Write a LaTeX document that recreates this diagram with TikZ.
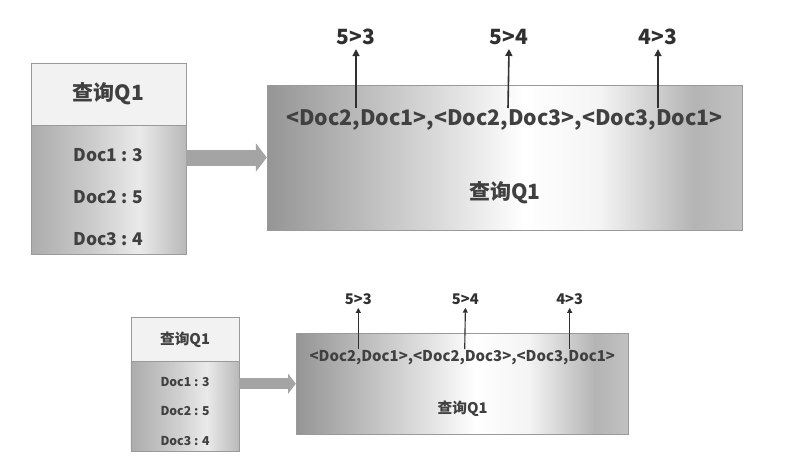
\documentclass[tikz,border=0pt]{standalone}
\usepackage{fontspec}
\setmainfont{Noto Sans CJK SC}
\usetikzlibrary{arrows.meta}
\definecolor{txtc}{HTML}{404040}
\definecolor{lblc}{HTML}{303030}
\definecolor{boxline}{HTML}{9A9A9A}
\definecolor{headfill}{HTML}{F2F2F2}
\definecolor{arrowc}{HTML}{A4A4A4}
\definecolor{lb0}{HTML}{858585}
\definecolor{lb1}{HTML}{9C9C9C}
\definecolor{lb2}{HTML}{CCCCCC}
\definecolor{lb3}{HTML}{EAEAEA}
\definecolor{lb4}{HTML}{A8A8A8}
\definecolor{lb5}{HTML}{787878}
\definecolor{rb0}{HTML}{7A7A7A}
\definecolor{rb1}{HTML}{959595}
\definecolor{rb2}{HTML}{E2E2E2}
\definecolor{rb3}{HTML}{F4F4F4}
\definecolor{rb4}{HTML}{B4B4B4}
\definecolor{rb5}{HTML}{D4D4D4}
\definecolor{rb6}{HTML}{969696}
\definecolor{rb7}{HTML}{828282}
\pgfdeclarehorizontalshading{lboxshade}{100bp}{color(0bp)=(lb0); color(15bp)=(lb1); color(45bp)=(lb2); color(60bp)=(lb3); color(80bp)=(lb4); color(100bp)=(lb5)}
\pgfdeclarehorizontalshading{rboxshade}{100bp}{color(0bp)=(rb0); color(25bp)=(rb1); color(45bp)=(rb2); color(52bp)=(white); color(60bp)=(rb3); color(70bp)=(rb4); color(82bp)=(rb5); color(92bp)=(rb6); color(100bp)=(rb7)}
\tikzset{
  x=1pt, y=-1pt,
  headbox/.style={draw=boxline, fill=headfill, minimum width=155pt, minimum height=62pt, inner sep=0pt,
    text=txtc, font=\bfseries\fontsize{21}{21}\selectfont},
  bodybox/.style={draw=boxline, shading=lboxshade, minimum width=155pt, minimum height=129pt, inner sep=0pt},
  rightbox/.style={draw=boxline, shading=rboxshade, minimum width=475pt, minimum height=145pt, inner sep=0pt},
  doctext/.style={text=txtc, inner sep=0pt, font=\bfseries\fontsize{17.5}{17.5}\selectfont},
  rowtext/.style={text=txtc, inner sep=0pt, font=\bfseries\fontsize{21.3}{21.3}\selectfont},
  titletext/.style={text=txtc, inner sep=0pt, font=\bfseries\fontsize{21}{21}\selectfont},
  lbl/.style={text=lblc, inner sep=0pt, font=\bfseries\fontsize{21}{21}\selectfont},
  rankfig/.pic={
    \node[headbox] (-head) at (-158.5,9) {查询Q1};
    \node[bodybox] (-body) at (-158.5,104.5) {};
    \node[doctext] (-d1) at (-158.5,70) {Doc1 : 3};
    \node[doctext] (-d2) at (-158.5,112) {Doc2 : 5};
    \node[doctext] (-d3) at (-158.5,154) {Doc3 : 4};
    \node[rightbox] (-rbox) at (237.5,72.5) {};
    \node[rowtext] (-row) at (237.5,35) {<Doc2,Doc1>,<Doc2,Doc3>,<Doc3,Doc1>};
    \node[titletext] (-title) at (238,108) {查询Q1};
    \node[lbl] (-l1) at (89,-48) {5>3};
    \node[lbl] (-l2) at (242,-48) {5>4};
    \node[lbl] (-l3) at (391,-48) {4>3};
    \coordinate (-c1) at (89,23);
    \coordinate (-c2) at (241,23);
    \coordinate (-c3) at (391,23);
    \foreach \i in {1,2,3}{
      \draw[draw=lblc, line width=#1*1.6pt, -{Triangle[length=7pt, width=7pt, scale=#1]}]
        (-c\i) -- ([yshift=-4pt]-l\i.south);
    }
    \draw[draw=arrowc, line width=#1*16pt, -{Triangle[length=11pt, width=28pt, scale=#1]}]
      (-body.east |- -rbox.west) -- (-rbox.west);
  }
}
\begin{document}
\begin{tikzpicture}
\useasboundingbox (0,0) rectangle (794,466);
\pic (top) at (267,85) {rankfig=1};
\pic[scale=0.7, transform shape] (bot) at (296,333) {rankfig=0.7};
\end{tikzpicture}
\end{document}
